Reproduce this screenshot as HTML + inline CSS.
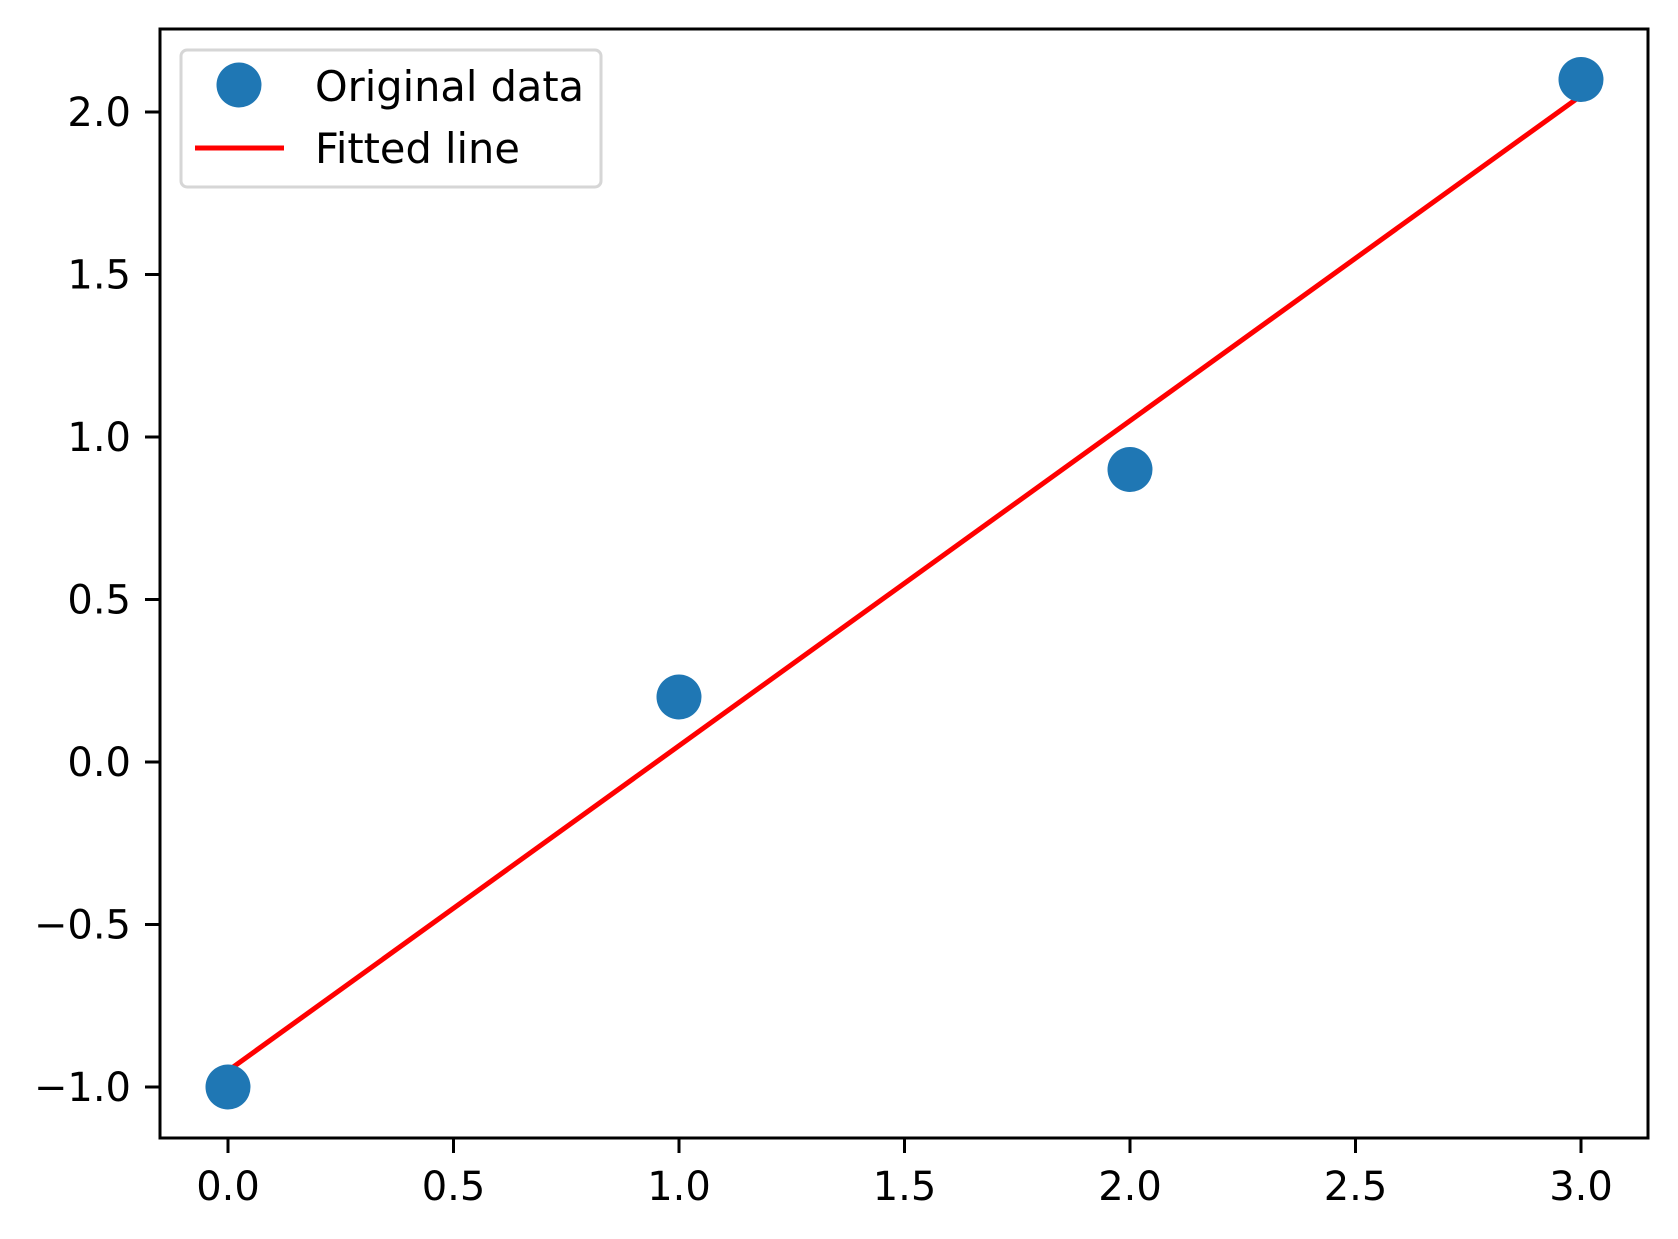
<!DOCTYPE html>
<html><head><meta charset="utf-8"><style>
html,body{margin:0;padding:0;background:#fff;}
svg{display:block;font-family:"DejaVu Sans","Liberation Sans",sans-serif;}
</style></head><body>
<svg id="chart" width="1678" height="1239" viewBox="0 0 1678 1239" xmlns="http://www.w3.org/2000/svg">
<rect width="1678" height="1239" fill="#fff"/>
<g id="plot"></g>
</svg>
<script>
const xData = [0, 1, 2, 3];
const yData = [-1.0, 0.2, 0.9, 2.1];
const fitX = [0, 3];
const fitSlope = 1.0;
const fitIntercept = -0.95;
const xTicks = [0.0, 0.5, 1.0, 1.5, 2.0, 2.5, 3.0];
const yTicks = [-1.0, -0.5, 0.0, 0.5, 1.0, 1.5, 2.0];

const L = 160, R = 1648, T = 29, B = 1138;
const X0 = 228, XPU = (1581 - 228) / 3;
const YPU = 325;
function sx(v){ return X0 + v * XPU; }
function sy(v){ return 762 - v * YPU; }
const NS = 'http://www.w3.org/2000/svg';
const g = document.getElementById('plot');
function mk(tag, attrs, parent){ const e = document.createElementNS(NS, tag); for (const k in attrs) e.setAttribute(k, attrs[k]); (parent||g).appendChild(e); return e; }

const fy = fitX.map(x => fitSlope * x + fitIntercept);
const line = mk('line', {x1: sx(fitX[0]), y1: sy(fy[0]), x2: sx(fitX[1]), y2: sy(fy[1]), stroke: '#ff0000', 'stroke-width': 5});



xData.forEach((x, i) => {
  const c = mk('circle', {cx: sx(x), cy: sy(yData[i]), r: 22.5, fill: '#1f77b4'});
  
  
});

const frame = mk('rect', {x: L, y: T, width: R - L, height: B - T, fill: 'none', stroke: '#000', 'stroke-width': 3});



xTicks.forEach(v => {
  const t = mk('line', {x1: sx(v), y1: B, x2: sx(v), y2: B + 15, stroke: '#000', 'stroke-width': 3});
  
  
  const tx = mk('text', {x: sx(v), y: 1200, 'text-anchor': 'middle', 'font-size': 40, fill: '#000'});
  tx.textContent = v.toFixed(1);
  
  
});
yTicks.forEach(v => {
  const t = mk('line', {x1: L - 15, y1: sy(v), x2: L, y2: sy(v), stroke: '#000', 'stroke-width': 3});
  
  
  const tx = mk('text', {x: 131, y: sy(v) + 14, 'text-anchor': 'end', 'font-size': 40, fill: '#000'});
  tx.textContent = (v < 0 ? '\u2212' + Math.abs(v).toFixed(1) : v.toFixed(1));
  
  
});

const lg = mk('g', {});


mk('rect', {x: 181, y: 50, width: 420, height: 137, rx: 6, fill: '#fff', 'fill-opacity': 0.8, stroke: '#d6d6d6', 'stroke-width': 3}, lg);
const lm = mk('circle', {cx: 239, cy: 85, r: 22.5, fill: '#1f77b4'}, lg);


const t1 = mk('text', {x: 315, y: 101, 'font-size': 41.5, fill: '#000'}, lg);
t1.textContent = 'Original data';


const ll = mk('line', {x1: 195, y1: 148, x2: 284, y2: 148, stroke: '#ff0000', 'stroke-width': 5}, lg);


const t2 = mk('text', {x: 315, y: 163, 'font-size': 41.5, fill: '#000'}, lg);
t2.textContent = 'Fitted line';


</script>
</body></html>
